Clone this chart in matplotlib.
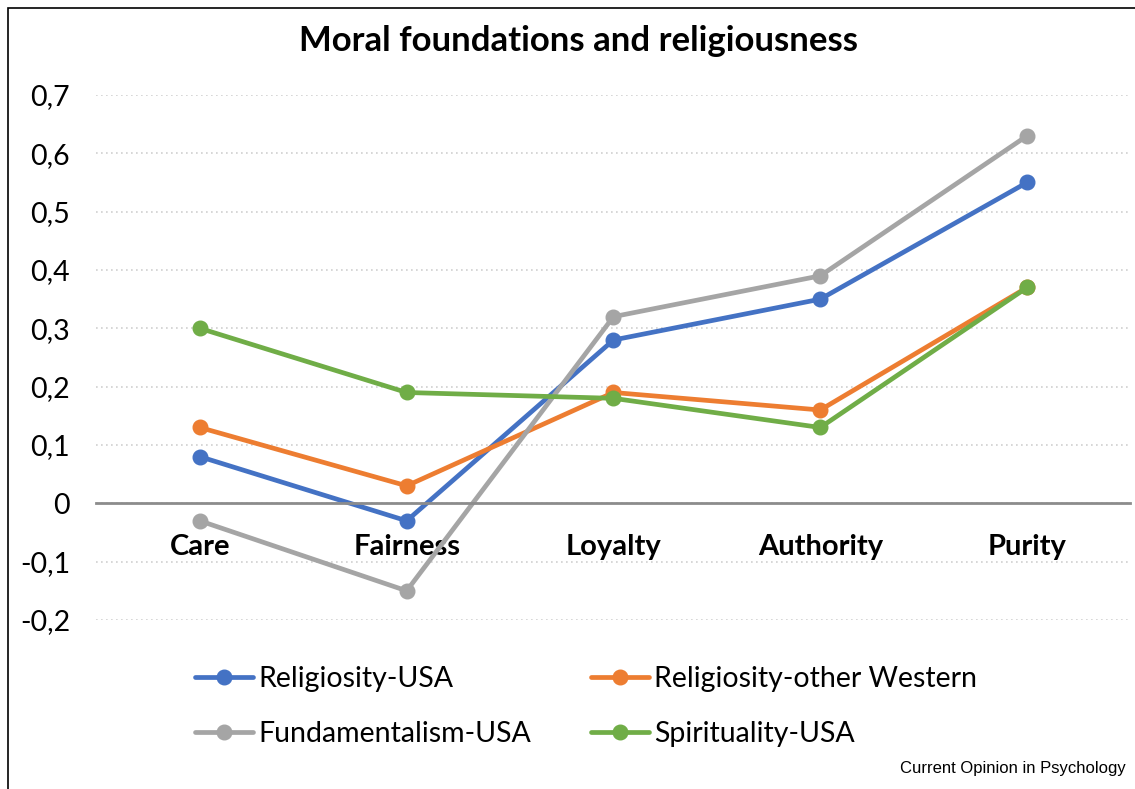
import matplotlib.pyplot as plt
from matplotlib.patches import Rectangle

categories = ['Care', 'Fairness', 'Loyalty', 'Authority', 'Purity']
religiosity_usa = [0.08, -0.03, 0.28, 0.35, 0.55]
religiosity_western = [0.13, 0.03, 0.19, 0.16, 0.37]
fundamentalism_usa = [-0.03, -0.15, 0.32, 0.39, 0.63]
spirituality_usa = [0.30, 0.19, 0.18, 0.13, 0.37]
y_ticks = [-0.2, -0.1, 0, 0.1, 0.2, 0.3, 0.4, 0.5, 0.6, 0.7]

plt.rcParams['font.family'] = ['Lato', 'DejaVu Sans']

fig = plt.figure(figsize=(11.35, 7.89), dpi=100)
ax = fig.add_axes([0.085, 0.2142, 0.911, 0.6654])

# outer chart border (only left/top visible)
fig.patches.append(Rectangle((8/1135, -0.05), 1.2, 1 - 8/789 + 0.05,
                             transform=fig.transFigure, fill=False,
                             edgecolor='black', linewidth=1.2))

x = range(len(categories))
series = [
    (religiosity_usa, 'Religiosity-USA', '#4472C4'),
    (religiosity_western, 'Religiosity-other Western', '#ED7D31'),
    (fundamentalism_usa, 'Fundamentalism-USA', '#A5A5A5'),
    (spirituality_usa, 'Spirituality-USA', '#70AD47'),
]
lines = []
for vals, name, col in series:
    l, = ax.plot(x, vals, color=col, linewidth=3.4, marker='o',
                 markersize=10.5, label=name, solid_capstyle='round')
    lines.append(l)

ax.set_xlim(-0.5, 4.5)
ax.set_ylim(-0.2, 0.7)
ax.set_yticks(y_ticks)
ax.set_yticklabels([('%.1f' % v).replace('.', ',') if v != 0 else '0' for v in y_ticks],
                   fontsize=20.5)
ax.yaxis.grid(True, linestyle=(0, (1, 2)), color='#D0D0D0', linewidth=1.2)
ax.set_axisbelow(True)
ax.tick_params(axis='y', length=0, pad=19)

ax.spines['bottom'].set_position(('data', 0))
ax.spines['bottom'].set_color('#8C8C8C')
ax.spines['bottom'].set_linewidth(2)
for s in ['top', 'right', 'left']:
    ax.spines[s].set_visible(False)
ax.set_xticks(list(x))
ax.set_xticklabels(categories, fontsize=21, fontweight='bold')
ax.tick_params(axis='x', length=0, pad=22)

fig.text(0.51, 0.948, 'Moral foundations and religiousness', ha='center', va='center',
         fontsize=25, fontweight='bold')

order = [lines[0], lines[2], lines[1], lines[3]]
fig.legend(order, [l.get_label() for l in order], ncol=2, frameon=False,
           fontsize=20.5, loc='center left', bbox_to_anchor=(0.149, 0.1046),
           handlelength=2.05, handletextpad=0.18, columnspacing=2.1,
           labelspacing=1.0)

fig.text(0.992, 0.026, 'Current Opinion in Psychology', ha='right', va='center',
         fontsize=12, family='Liberation Sans')

plt.savefig('out.png', dpi=100)
